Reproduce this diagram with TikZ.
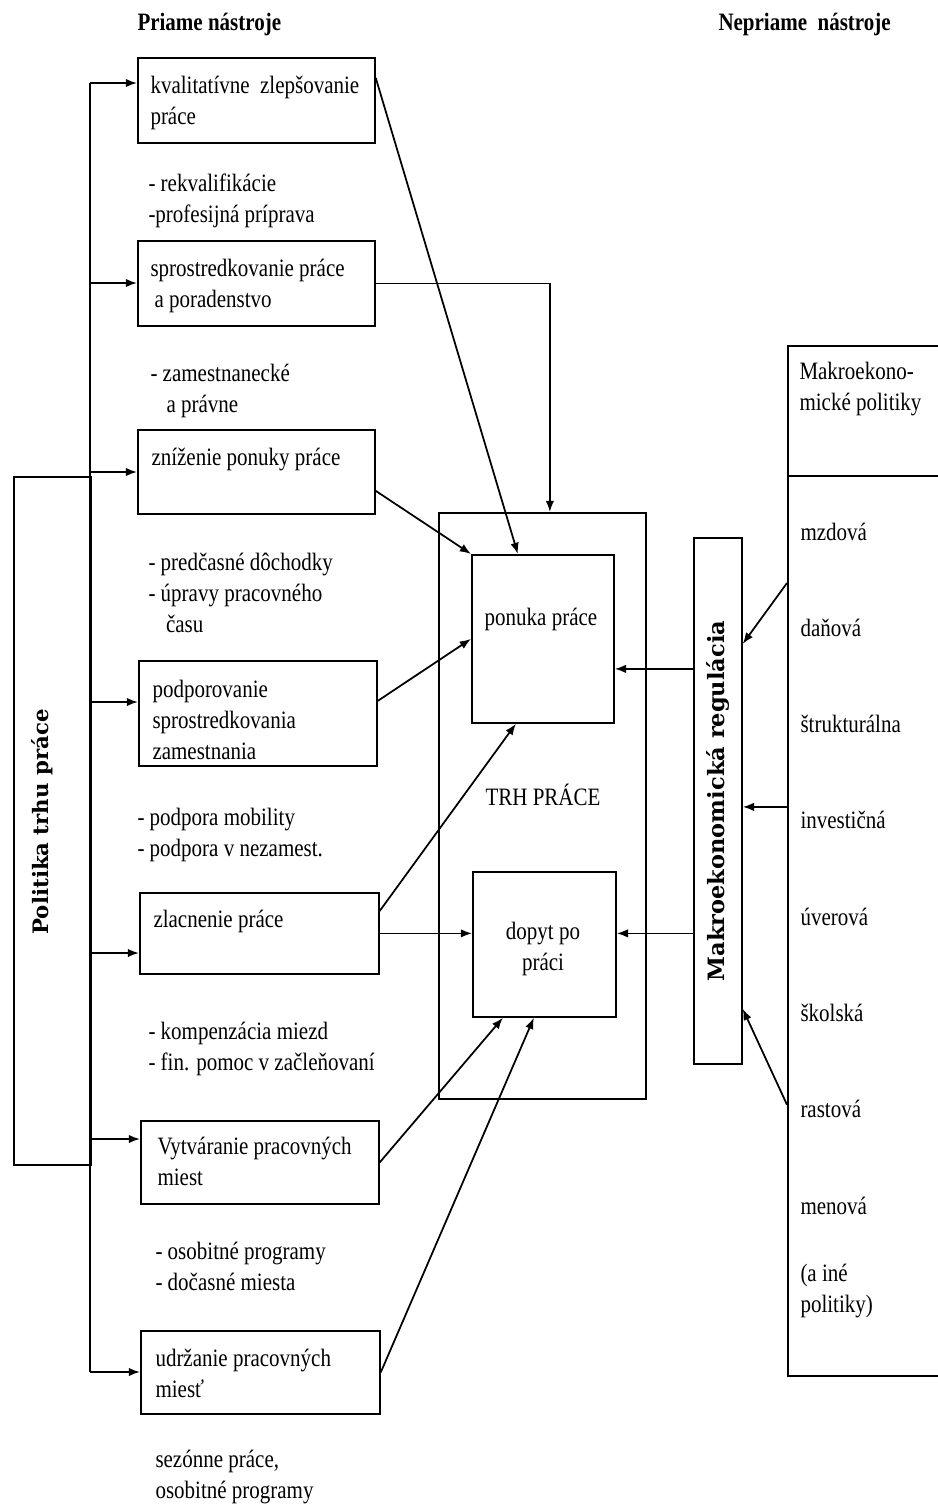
\documentclass[tikz,border=0pt]{standalone}
\usepackage{fontspec}
\setmainfont{Liberation Serif}[FakeStretch=0.84]
\newfontfamily\grasdv{DejaVu Serif}
\usetikzlibrary{arrows.meta}
\begin{document}
\begin{tikzpicture}[x=0.4pt,y=-0.4pt]
	% Styles
	\tikzstyle{fleche}=[->,>={Latex[length=4.5pt,width=3.4pt]},line width=0.7pt]
	\tikzstyle{trait}=[line width=0.7pt]
	\tikzstyle{boite}=[draw,line width=0.7pt,anchor=north west,inner sep=0pt]
	\tikzstyle{texte}=[anchor=base west,align=left,inner sep=0pt,font=\fontsize{10}{12.4}\selectfont]
	\tikzstyle{centre}=[anchor=base,align=center,inner sep=0pt,font=\fontsize{10}{12.4}\selectfont]
	\tikzstyle{titre}=[anchor=base west,inner sep=0pt,font=\fontsize{10}{12}\selectfont\bfseries]
	\tikzstyle{vertical}=[rotate=90,inner sep=0pt]
	% Dimensions
	\def\px{0.4pt}
	\useasboundingbox (0,0) rectangle (938,1508);
	% Titres
	\node[titre] (dir) at (137,30) {Priame nástroje};
	\node[titre] (indir) at (718,30) {Nepriame\ \ nástroje};
	% Boites gauche
	\node[boite,minimum width=77*\px,minimum height=688*\px] (poli) at (13,476) {};
	\node[boite,minimum width=237*\px,minimum height=85*\px] (kval) at (137,57) {};
	\node[boite,minimum width=237*\px,minimum height=85*\px] (spro) at (137,240) {};
	\node[boite,minimum width=237*\px,minimum height=84*\px] (zniz) at (137,429) {};
	\node[boite,minimum width=238*\px,minimum height=105*\px] (podp) at (138,660) {};
	\node[boite,minimum width=239*\px,minimum height=81*\px] (zlac) at (139,892) {};
	\node[boite,minimum width=238*\px,minimum height=83*\px] (vytv) at (140,1120) {};
	\node[boite,minimum width=239*\px,minimum height=83*\px] (udrz) at (140,1330) {};
	% Boites milieu et droite
	\node[boite,minimum width=207*\px,minimum height=586*\px] (trh) at (438,512) {};
	\node[boite,minimum width=142*\px,minimum height=168*\px] (pon) at (471,554) {};
	\node[boite,minimum width=143*\px,minimum height=145*\px] (dop) at (472,871) {};
	\node[boite,minimum width=48*\px,minimum height=526*\px] (reg) at (693,537) {};
	\node[boite,minimum width=170*\px,minimum height=130*\px] (makro) at (787,345) {};
	\node[boite,minimum width=170*\px,minimum height=900*\px] (polit) at (787,475) {};
	% Textes (base = derniere ligne)
	\node[vertical,font=\grasdv\bfseries\fontsize{8.5}{10}\selectfont] (poliT) at (42,822) {Politika trhu práce};
	\node[vertical,font=\grasdv\bfseries\fontsize{9}{11}\selectfont] (regT) at (718,801) {Makroekonomická regulácia};
	\node[texte] (kvalT) at (150,124) {kvalitatívne\ \ zlepšovanie\\práce};
	\node[texte] (rekvT) at (148,222) {- rekvalifikácie\\-profesijná príprava};
	\node[texte] (sproT) at (150,307) {sprostredkovanie práce\\\hspace{1.6pt}a poradenstvo};
	\node[texte] (zamT) at (150,412) {- zamestnanecké\\\hspace{6.4pt}a právne};
	\node[texte] (znizT) at (151,465) {zníženie ponuky práce};
	\node[texte] (predT) at (148,632) {- predčasné dôchodky\\- úpravy pracovného\\\hspace{7pt}času};
	\node[texte] (podpT) at (152,759) {podporovanie\\sprostredkovania\\zamestnania};
	\node[texte] (mobT) at (137,856) {- podpora mobility\\- podpora v nezamest.};
	\node[texte] (zlacT) at (153,927) {zlacnenie práce};
	\node[texte] (kompT) at (148,1070) {- kompenzácia miezd\\- fin. pomoc v začleňovaní};
	\node[texte] (vytvT) at (157,1185) {Vytváranie pracovných\\miest};
	\node[texte] (osobT) at (155,1290) {- osobitné programy\\- dočasné miesta};
	\node[texte] (udrzT) at (155,1397) {udržanie pracovných\\miesť};
	\node[texte] (sezT) at (155,1498) {sezónne práce,\\osobitné programy};
	\node[centre] (trhT) at (543,805) {TRH PRÁCE};
	\node[centre] (ponT) at (541,625) {ponuka práce};
	\node[centre] (dopT) at (543,970) {dopyt po\\práci};
	\node[texte] (makroT) at (799,410) {Makroekono-\\mické politiky};
	\foreach \nom [count=\i from 0] in {mzdová,daňová,štrukturálna,investičná,úverová,školská,rastová,menová}
		\node[texte] (pol\i) at (800,{540+96.3*\i}) {\nom};
	\node[texte] (ineT) at (800,1312) {(a iné\\politiky)};
	% Tronc
	\coordinate (b1) at (90,83);
	\coordinate (b2) at (90,283);
	\coordinate (b3) at (90,472);
	\coordinate (b4) at (90,702);
	\coordinate (b5) at (90,953);
	\coordinate (b6) at (90,1139);
	\coordinate (b7) at (90,1372);
	\draw[trait] (b1) -- (b7);
	\draw[fleche] (b1) -- (b1 -| kval.west);
	\draw[fleche] (b2) -- (b2 -| spro.west);
	\draw[fleche] (b3) -- (b3 -| zniz.west);
	\draw[fleche] (b4) -- (b4 -| podp.west);
	\draw[fleche] (b5) -- (b5 -| zlac.west);
	\draw[fleche] (b6) -- (b6 -| vytv.west);
	\draw[fleche] (b7) -- (b7 -| udrz.west);
	% Arcs
	\draw[fleche] ([yshift=9pt]kval.east) -- ([xshift=-10pt]pon.north);
	\draw[fleche] (spro.east) -| ([xshift=3pt]trh.north);
	\draw[fleche] ([yshift=-7.6pt]zniz.east) -- (pon.north west);
	\draw[fleche] ([yshift=5pt]podp.east) -- (pon.west);
	\draw[fleche] ([yshift=9pt]zlac.east) -- ([xshift=-10.8pt]pon.south);
	\draw[fleche] (zlac.east) -- (zlac.east -| dop.west);
	\draw[fleche] (vytv.east) -- ([xshift=-16.6pt]dop.south);
	\draw[fleche] (udrz.east) -- ([xshift=-4.2pt]dop.south);
	\coordinate (pe) at ([yshift=-12pt]pon.east);
	\draw[fleche] (pe -| reg.west) -- (pe);
	\draw[fleche] (zlac.east -| reg.west) -- (zlac.east -| dop.east);
	\coordinate (ri) at ([yshift=-2.4pt]reg.east);
	\draw[fleche] ([yshift=-43.2pt]polit.north west) -- ([yshift=62.8pt]reg.east);
	\draw[fleche] (ri -| polit.west) -- (ri);
	\draw[fleche] ([yshift=108.8pt]polit.south west) -- ([yshift=-83.2pt]reg.east);
\end{tikzpicture}
\end{document}
